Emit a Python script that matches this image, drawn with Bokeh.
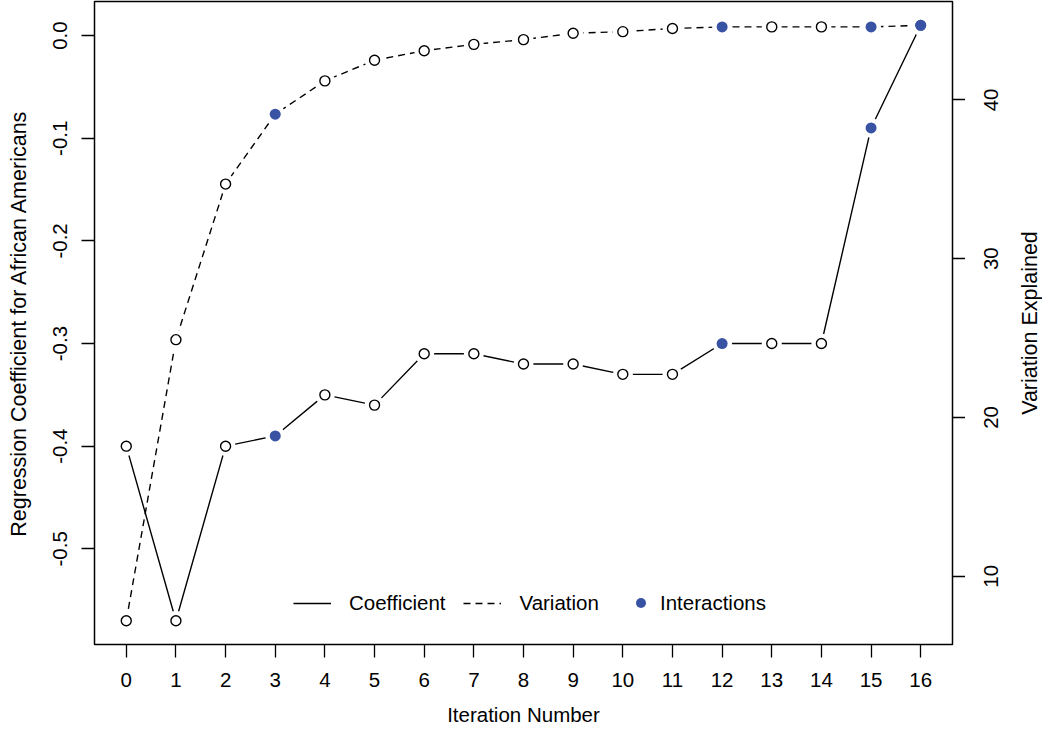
import math
from bokeh.plotting import figure
from bokeh.layouts import row
from bokeh.models import (Range1d, LinearAxis, FixedTicker, Legend, LegendItem,
                          PrintfTickFormatter)
from bokeh.core.properties import value
from bokeh.embed import file_html
from bokeh.resources import INLINE

# ---- data ----
iterations = list(range(17))
coefficient = [-0.40, -0.57, -0.40, -0.39, -0.35, -0.36, -0.31, -0.31, -0.32,
               -0.32, -0.33, -0.33, -0.30, -0.30, -0.30, -0.09, 0.01]
variation = [7.2, 24.9, 34.7, 39.1, 41.2, 42.5, 43.1, 43.5, 43.8, 44.2, 44.3,
             44.5, 44.6, 44.6, 44.6, 44.6, 44.7]
interaction_iters = [3, 12, 15, 16]
left_ticks = [-0.5, -0.4, -0.3, -0.2, -0.1, 0.0]
right_ticks = [10, 20, 30, 40]
x_ticks = iterations

FONT = "Liberation Sans"
FS = "20.5px"
FS_V = "21.5px"
BLUE = "#3953a4"


def padded(vals):
    lo, hi = min(vals), max(vals)
    d = 0.04 * (hi - lo)
    return Range1d(lo - d, hi + d)


var_range = padded(variation)

p = figure(width=965, height=731, output_backend="svg", toolbar_location=None,
           x_range=padded(iterations), y_range=padded(coefficient),
           min_border_left=94, min_border_right=13, min_border_top=1,
           min_border_bottom=87)
p.extra_y_ranges = {"var": var_range}
p.xgrid.grid_line_color = None
p.ygrid.grid_line_color = None
p.outline_line_color = "black"
p.outline_line_width = 1.5
p.background_fill_color = "white"
p.border_fill_color = "white"


def style_axis(ax, label_standoff, title_standoff, title_size):
    ax.axis_line_color = None
    ax.major_tick_in = 0
    ax.major_tick_out = 13
    ax.major_tick_line_color = "black"
    ax.major_tick_line_width = 1.3
    ax.minor_tick_line_color = None
    ax.major_label_text_font = FONT
    ax.major_label_text_font_size = FS
    ax.major_label_text_color = "black"
    ax.major_label_standoff = label_standoff
    ax.axis_label_text_font = FONT
    ax.axis_label_text_font_size = title_size
    ax.axis_label_text_font_style = "normal"
    ax.axis_label_text_color = "black"
    ax.axis_label_standoff = title_standoff


# x axis
xax = p.xaxis[0]
xax.ticker = FixedTicker(ticks=x_ticks)
xax.axis_label = "Iteration Number"
style_axis(xax, 15, 13, FS)

# left axis
yax = p.yaxis[0]
yax.ticker = FixedTicker(ticks=left_ticks)
yax.formatter = PrintfTickFormatter(format="%.1f")
yax.axis_label = "Regression Coefficient for African Americans"
yax.major_label_orientation = "vertical"
style_axis(yax, 14, 20, FS_V)

# right axis: tick marks only (labels are drawn bottom-to-top in the side panel)
rax = LinearAxis(y_range_name="var", ticker=FixedTicker(ticks=right_ticks),
                 major_label_overrides={t: "" for t in right_ticks})
style_axis(rax, 0, 0, FS_V)
rax.major_label_text_font_size = "0px"
p.add_layout(rax, "right")

# lines
coef_line = p.line(iterations, coefficient, line_color="black", line_width=1.4)
var_line = p.line(iterations, variation, y_range_name="var", line_color="black",
                  line_width=1.4, line_dash="7 5")

# white masks giving the gaps around points (like R's type="b")
p.scatter(iterations, coefficient, size=20, fill_color="white", line_color=None)
p.scatter(iterations, variation, size=20, fill_color="white", line_color=None,
          y_range_name="var")

plain = [i for i in iterations if i not in interaction_iters]
p.scatter([iterations[i] for i in plain], [coefficient[i] for i in plain],
          size=10, fill_color="white", line_color="black", line_width=1.4)
p.scatter([iterations[i] for i in plain], [variation[i] for i in plain],
          size=10, fill_color="white", line_color="black", line_width=1.4,
          y_range_name="var")

blue_coef = p.scatter(interaction_iters, [coefficient[i] for i in interaction_iters],
                      size=11, fill_color=BLUE, line_color=None)
p.scatter(interaction_iters, [variation[i] for i in interaction_iters],
          size=11, fill_color=BLUE, line_color=None, y_range_name="var")


def make_legend(items, loc, gw, gh, standoff):
    lg = Legend(items=items, location=loc, orientation="horizontal",
                glyph_width=gw, glyph_height=gh, label_standoff=standoff,
                spacing=18, padding=0, margin=0, border_line_color=None,
                background_fill_alpha=0, label_text_font=FONT,
                label_text_font_size=FS, label_text_color="black")
    return lg


legA = make_legend([LegendItem(label="Coefficient", renderers=[coef_line]),
                    LegendItem(label="Variation", renderers=[var_line])],
                   (199, 29), 38, 22, 18)
legB = make_legend([LegendItem(label="Interactions", renderers=[blue_coef])],
                   (534, 29), 25, 25, 7)
p.add_layout(legA)
p.add_layout(legB)

# ---- right side panel: tick labels and title reading bottom-to-top ----
side = figure(width=77, height=731, output_backend="svg", toolbar_location=None,
              x_range=Range1d(0, 77), y_range=var_range,
              x_axis_type=None, y_axis_type=None,
              min_border_left=0, min_border_right=0, min_border_top=1,
              min_border_bottom=87)
side.outline_line_color = None
side.background_fill_color = "white"
side.border_fill_color = "white"
side.xgrid.grid_line_color = None
side.ygrid.grid_line_color = None

side.text(x=[25] * len(right_ticks), y=right_ticks,
          text=[str(t) for t in right_ticks], angle=math.pi / 2,
          text_align="center", text_baseline="middle",
          text_font=value(FONT), text_font_size=value(FS), text_color="black")
side.text(x=[64], y=[(var_range.start + var_range.end) / 2],
          text=["Variation Explained"], angle=math.pi / 2,
          text_align="center", text_baseline="middle",
          text_font=value(FONT), text_font_size=value(FS_V), text_color="black")

layout = row(p, side)
open("out.html", "w").write(file_html(layout, INLINE))
